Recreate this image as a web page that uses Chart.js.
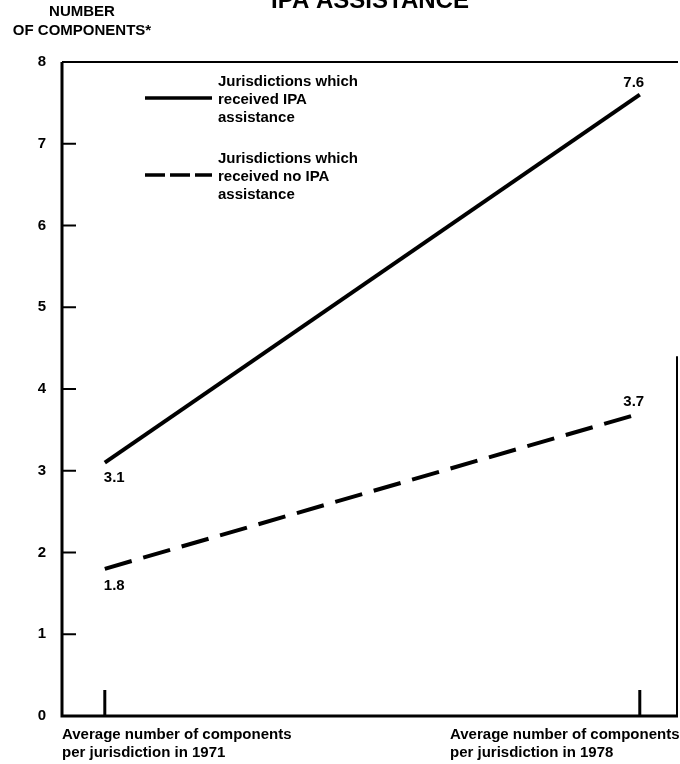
<!DOCTYPE html>
<html lang="en">
<head>
<meta charset="UTF-8">
<title>Number of components</title>
<script src="https://cdn.jsdelivr.net/npm/chart.js"></script>
<style>
    html, body { margin: 0; padding: 0; background: #fff; }
    .wrap { position: relative; width: 680px; height: 764px; }
</style>
</head>
<body>
<div class="wrap">
    <canvas id="componentsChart" width="680" height="764"></canvas>
</div>
<script>
    // data
    const years = [1971, 1978];
    const withIpa = [3.1, 7.6];
    const withoutIpa = [1.8, 3.7];
    const yTicks = [0, 1, 2, 3, 4, 5, 6, 7, 8];
    const seriesNames = [
        ['Jurisdictions which', 'received IPA', 'assistance'],
        ['Jurisdictions which', 'received no IPA', 'assistance']
    ];
    const xLabels = [
        ['Average number of components', 'per jurisdiction in 1971'],
        ['Average number of components', 'per jurisdiction in 1978']
    ];

    const FONT = '"Liberation Sans", Arial, sans-serif';
    const DASH = [28, 12];

    // draws axis frame, ticks, labels and legend
    const decorPlugin = {
        id: 'decor',
        afterDatasetsDraw(chart) {
            const ctx = chart.ctx;
            const area = chart.chartArea;
            const xs = chart.scales.x;
            const ys = chart.scales.y;
            ctx.save();
            ctx.strokeStyle = '#000';
            ctx.fillStyle = '#000';

            // top and right frame
            ctx.lineWidth = 2;
            ctx.beginPath();
            ctx.moveTo(area.left, area.top);
            ctx.lineTo(area.right, area.top);
            ctx.stroke();
            ctx.beginPath();
            ctx.moveTo(area.right - 1, area.top + area.height * 0.45);
            ctx.lineTo(area.right - 1, area.bottom);
            ctx.stroke();

            // left and bottom axis
            ctx.lineWidth = 3;
            ctx.beginPath();
            ctx.moveTo(area.left, area.top);
            ctx.lineTo(area.left, area.bottom);
            ctx.lineTo(area.right, area.bottom);
            ctx.stroke();

            // y ticks (inside) and labels
            ctx.lineWidth = 2;
            ctx.font = 'bold 15px ' + FONT;
            ctx.textAlign = 'right';
            ctx.textBaseline = 'middle';
            yTicks.forEach(v => {
                const y = ys.getPixelForValue(v);
                if (v > 0) {
                    ctx.beginPath();
                    ctx.moveTo(area.left, y);
                    ctx.lineTo(area.left + 14, y);
                    ctx.stroke();
                }
                ctx.fillText(String(v), 46, y);
            });

            // x ticks (vertical marks above the axis)
            ctx.lineWidth = 3;
            years.forEach(yr => {
                const x = xs.getPixelForValue(yr);
                ctx.beginPath();
                ctx.moveTo(x, area.bottom);
                ctx.lineTo(x, area.bottom - 26);
                ctx.stroke();
            });

            // x labels
            ctx.font = 'bold 15px ' + FONT;
            ctx.textAlign = 'left';
            ctx.textBaseline = 'alphabetic';
            xLabels[0].forEach((t, i) => ctx.fillText(t, 62, area.bottom + 23 + i * 18));
            xLabels[1].forEach((t, i) => ctx.fillText(t, 450, area.bottom + 23 + i * 18));

            // value labels
            ctx.font = 'bold 15px ' + FONT;
            const x0 = xs.getPixelForValue(years[0]);
            const x1 = xs.getPixelForValue(years[1]);
            ctx.textAlign = 'left';
            ctx.fillText(withIpa[0].toFixed(1), x0 - 1, ys.getPixelForValue(withIpa[0]) + 19);
            ctx.fillText(withoutIpa[0].toFixed(1), x0 - 1, ys.getPixelForValue(withoutIpa[0]) + 21);
            ctx.textAlign = 'center';
            ctx.fillText(withIpa[1].toFixed(1), x1 - 6, ys.getPixelForValue(withIpa[1]) - 8);
            ctx.fillText(withoutIpa[1].toFixed(1), x1 - 6, ys.getPixelForValue(withoutIpa[1]) - 8);

            // y axis title
            ctx.font = 'bold 15px ' + FONT;
            ctx.textAlign = 'center';
            ctx.fillText('NUMBER', 82, 16);
            ctx.fillText('OF COMPONENTS*', 82, 35);

            // clipped title at top
            ctx.font = 'bold 24px ' + FONT;
            ctx.fillText('IPA ASSISTANCE', 370, 8);

            // legend
            ctx.font = 'bold 15px ' + FONT;
            ctx.textAlign = 'left';
            [0, 1].forEach(i => {
                const top = 87 + i * 77;
                ctx.lineWidth = 3.5;
                ctx.setLineDash(i === 0 ? [] : [20, 5]);
                ctx.beginPath();
                ctx.moveTo(145, top + 11);
                ctx.lineTo(212, top + 11);
                ctx.stroke();
                ctx.setLineDash([]);
                seriesNames[i].forEach((t, j) => ctx.fillText(t, 218, top - 1 + j * 18));
            });
            ctx.restore();
        }
    };

    new Chart(document.getElementById('componentsChart'), {
        type: 'line',
        data: {
            datasets: [
                {
                    label: seriesNames[0].join(' '),
                    data: years.map((x, i) => ({ x: x, y: withIpa[i] })),
                    borderColor: '#000',
                    borderWidth: 4,
                    pointRadius: 0,
                    fill: false
                },
                {
                    label: seriesNames[1].join(' '),
                    data: years.map((x, i) => ({ x: x, y: withoutIpa[i] })),
                    borderColor: '#000',
                    borderWidth: 4,
                    borderDash: DASH,
                    pointRadius: 0,
                    fill: false
                }
            ]
        },
        options: {
            responsive: false,
            animation: false,
            layout: { padding: { top: 62, bottom: 48, left: 62, right: 2 } },
            plugins: { legend: { display: false }, tooltip: { enabled: false } },
            scales: {
                x: {
                    type: 'linear',
                    min: 1970.44,
                    max: 1978.5,
                    display: false
                },
                y: {
                    min: 0,
                    max: 8,
                    display: false
                }
            }
        },
        plugins: [decorPlugin]
    });
</script>
</body>
</html>
